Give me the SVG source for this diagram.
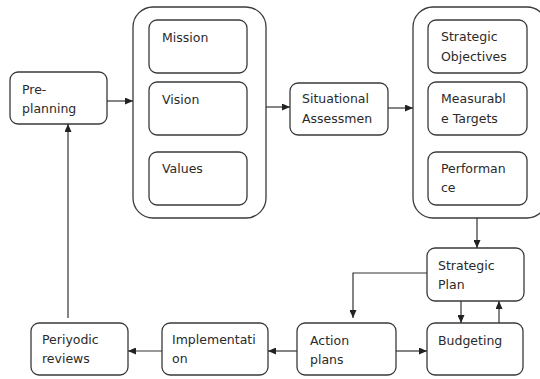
<svg xmlns="http://www.w3.org/2000/svg" width="540" height="379" viewBox="0 0 540 379">
<style>
.box{fill:#fff;stroke:#3a3a3a;stroke-width:1.3}
.t{font-family:"DejaVu Sans","Liberation Sans",sans-serif;font-size:12.5px;fill:#2a2a2a}
.c{fill:none;stroke:#333;stroke-width:1.2}
</style>
<defs>
<marker id="arr" markerUnits="userSpaceOnUse" markerWidth="8" markerHeight="7" refX="8" refY="3.5" orient="auto">
<path d="M0,0 L8,3.5 L0,7 z" fill="#222"/>
</marker>
</defs>
<rect width="540" height="379" fill="#fff"/>
<g id="outer1"><rect class="box" x="133" y="7" width="133" height="211" rx="20"/></g>
<g id="outer2"><rect class="box" x="413" y="7" width="134" height="211" rx="20"/></g>
<g id="preplanning"><rect class="box" x="10" y="72" width="97" height="52" rx="8"/><text class="t" x="22" y="94">Pre-</text><text class="t" x="22" y="113">planning</text></g>
<g id="mission"><rect class="box" x="149" y="20" width="98" height="53" rx="8"/><text class="t" x="162" y="42">Mission</text></g>
<g id="vision"><rect class="box" x="149" y="82" width="98" height="53" rx="8"/><text class="t" x="162" y="104">Vision</text></g>
<g id="values"><rect class="box" x="149" y="152" width="98" height="53" rx="8"/><text class="t" x="162" y="173">Values</text></g>
<g id="situational"><rect class="box" x="290" y="83" width="98" height="52" rx="8"/><text class="t" x="302" y="103">Situational</text><text class="t" x="302" y="123">Assessmen</text></g>
<g id="objectives"><rect class="box" x="428" y="20" width="99" height="53" rx="8"/><text class="t" x="441" y="41">Strategic</text><text class="t" x="441" y="61">Objectives</text></g>
<g id="measurable"><rect class="box" x="428" y="82" width="99" height="53" rx="8"/><text class="t" x="441" y="103">Measurabl</text><text class="t" x="441" y="123">e Targets</text></g>
<g id="performance"><rect class="box" x="428" y="152" width="99" height="53" rx="8"/><text class="t" x="441" y="173">Performan</text><text class="t" x="441" y="192">ce</text></g>
<g id="strategicplan"><rect class="box" x="427" y="248" width="97" height="53" rx="8"/><text class="t" x="438" y="270">Strategic</text><text class="t" x="438" y="289">Plan</text></g>
<g id="budgeting"><rect class="box" x="427" y="323" width="96" height="52" rx="8"/><text class="t" x="438" y="345">Budgeting</text></g>
<g id="actionplans"><rect class="box" x="297" y="323" width="99" height="52" rx="8"/><text class="t" x="310" y="345">Action</text><text class="t" x="310" y="364">plans</text></g>
<g id="implementation"><rect class="box" x="162" y="323" width="106" height="52" rx="8"/><text class="t" x="172" y="344">Implementati</text><text class="t" x="172" y="363">on</text></g>
<g id="periyodic"><rect class="box" x="31" y="323" width="97" height="52" rx="8"/><text class="t" x="42" y="344">Periyodic</text><text class="t" x="42" y="363">reviews</text></g>
<g id="connectors">
<path class="c" d="M107 101 H133" marker-end="url(#arr)"/>
<path class="c" d="M266 107 H290" marker-end="url(#arr)"/>
<path class="c" d="M388 108 H413" marker-end="url(#arr)"/>
<path class="c" d="M477 218 V248" marker-end="url(#arr)"/>
<path class="c" d="M461 301 V323" marker-end="url(#arr)"/>
<path class="c" d="M499 323 V301" marker-end="url(#arr)"/>
<path class="c" d="M427 273 H353 V318" marker-end="url(#arr)"/>
<path class="c" d="M396 351 H427" marker-end="url(#arr)"/>
<path class="c" d="M297 351 H268" marker-end="url(#arr)"/>
<path class="c" d="M162 351 H128" marker-end="url(#arr)"/>
<path class="c" d="M68 318 V124" marker-end="url(#arr)"/>
</g>
</svg>
